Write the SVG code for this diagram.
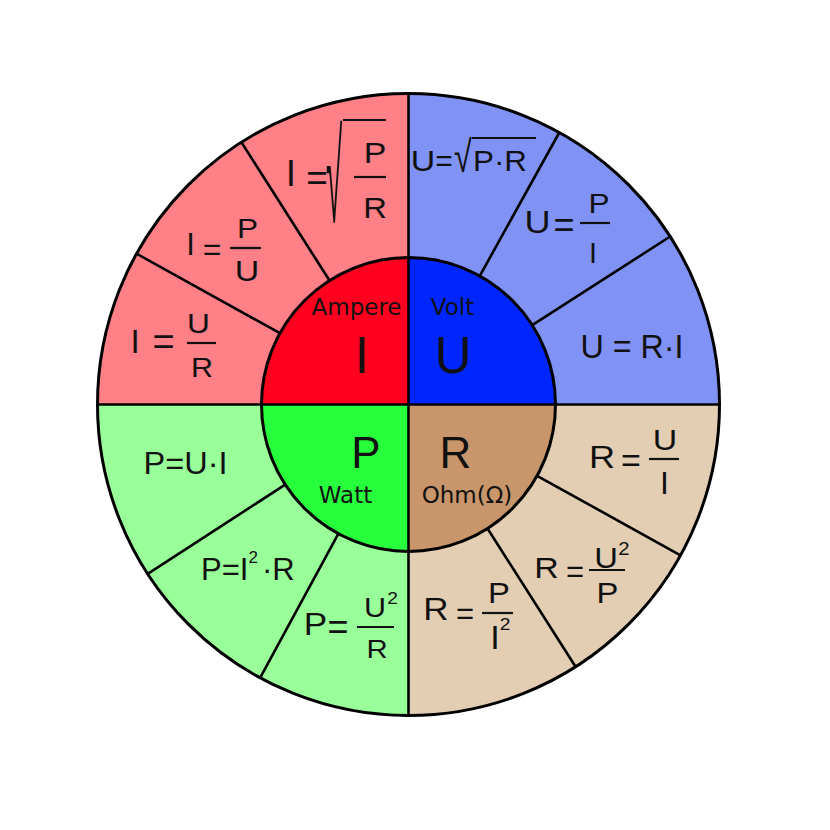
<svg xmlns="http://www.w3.org/2000/svg" width="830" height="830" viewBox="0 0 830 830">
<style>
.f{font-family:"Liberation Sans",Arial,sans-serif;fill:#111}
.m{text-anchor:middle}
.w{transform-box:fill-box;transform-origin:center;transform:scaleX(1.13)}
.lbl{font-family:"DejaVu Sans",sans-serif;fill:#111;text-anchor:middle;font-size:23px}
.big{font-family:"Liberation Sans",Arial,sans-serif;fill:#111;text-anchor:middle}
.bar{stroke:#111;stroke-width:2.2}
.div{stroke:#000;stroke-width:2.6;fill:none}
.ring{stroke:#000;stroke-width:3;fill:none}
</style>
<rect width="830" height="830" fill="#fff"/>
<g id="outer-sectors">
<path d="M408.5 404.5 L97.5 404.5 A311 311 0 0 1 408.5 93.5 Z" fill="#ff8087"/>
<path d="M408.5 404.5 L408.5 93.5 A311 311 0 0 1 719.5 404.5 Z" fill="#8093f5"/>
<path d="M408.5 404.5 L719.5 404.5 A311 311 0 0 1 408.5 715.5 Z" fill="#e3ceb4"/>
<path d="M408.5 404.5 L408.5 715.5 A311 311 0 0 1 97.5 404.5 Z" fill="#99ff99"/>
</g>
<g id="node-I">
<path d="M408.5 404.5 L261.5 404.5 A147 147 0 0 1 408.5 257.5 Z" fill="#ff001e"/>
<text class="lbl" x="356.5" y="315">Ampere</text>
<text class="big" x="362" y="373" font-size="51">I</text>
</g>
<g id="node-U">
<path d="M408.5 404.5 L408.5 257.5 A147 147 0 0 1 555.5 404.5 Z" fill="#0026ff"/>
<text class="lbl" x="452.5" y="315">Volt</text>
<text class="big" x="453" y="373" font-size="51">U</text>
</g>
<g id="node-R">
<path d="M408.5 404.5 L555.5 404.5 A147 147 0 0 1 408.5 551.5 Z" fill="#c8966a"/>
<text class="big" x="455.5" y="468" font-size="44">R</text>
<text class="lbl" x="467" y="503" font-size="24">Ohm(Ω)</text>
</g>
<g id="node-P">
<path d="M408.5 404.5 L408.5 551.5 A147 147 0 0 1 261.5 404.5 Z" fill="#28ff3c"/>
<text class="big" x="366" y="468" font-size="44">P</text>
<text class="lbl" x="345.5" y="503">Watt</text>
</g>
<g id="connectors">
<circle class="ring" cx="408.5" cy="404.5" r="311"/>
<circle class="ring" cx="408.5" cy="404.5" r="147"/>
<line class="div" x1="408.5" y1="93.5" x2="408.5" y2="715.5" stroke-width="3"/>
<line class="div" x1="97.5" y1="404.5" x2="719.5" y2="404.5" stroke-width="3"/>
<line class="div" x1="329.5" y1="280.5" x2="241.4" y2="142.2"/>
<line class="div" x1="279.9" y1="333.2" x2="136.5" y2="253.7"/>
<line class="div" x1="479.8" y1="275.9" x2="559.3" y2="132.5"/>
<line class="div" x1="532.2" y1="325.1" x2="670.2" y2="236.5"/>
<line class="div" x1="285.2" y1="484.6" x2="147.7" y2="573.9"/>
<line class="div" x1="338.4" y1="533.7" x2="260.1" y2="677.8"/>
<line class="div" x1="487.5" y1="528.5" x2="575.6" y2="666.8"/>
<line class="div" x1="537.1" y1="475.8" x2="680.5" y2="555.3"/>
</g>
<g id="f-I-sqrt">
<text class="f m" x="291" y="186" font-size="37">I</text>
<text class="f m" x="317" y="190" font-size="37">=</text>
<text class="f" transform="translate(326 222) scale(0.8 3.45)" font-size="37">√</text>
<line class="bar" x1="343" y1="120" x2="386" y2="120"/>
<text class="f m w" x="375" y="163" font-size="30">P</text>
<line class="bar" x1="354" y1="177" x2="386" y2="177"/>
<text class="f m w" x="375" y="218" font-size="29">R</text>
</g>
<g id="f-U-sqrt">
<text class="f m w" x="423" y="171" font-size="30">U</text>
<text class="f m" x="444" y="171" font-size="30">=</text>
<text class="f" transform="translate(454 172) scale(0.95 1.3)" font-size="34">√</text>
<line class="bar" x1="472" y1="138" x2="536" y2="138"/>
<text class="f" x="473" y="171" font-size="30" textLength="54" lengthAdjust="spacingAndGlyphs">P·R</text>
</g>
<g id="f-I-PU">
<text class="f m" x="190.5" y="255" font-size="31">I</text>
<text class="f m" x="212" y="259.5" font-size="32">=</text>
<text class="f m w" x="247.5" y="238" font-size="28">P</text>
<line class="bar" x1="230" y1="248" x2="261" y2="248"/>
<text class="f m w" x="247" y="281.5" font-size="30">U</text>
</g>
<g id="f-I-UR">
<text class="f m" x="135" y="353" font-size="33">I</text>
<text class="f m" x="163.5" y="355" font-size="38">=</text>
<text class="f m w" x="198.5" y="333" font-size="28">U</text>
<line class="bar" x1="187" y1="343" x2="216" y2="343"/>
<text class="f m w" x="202" y="377" font-size="27">R</text>
</g>
<g id="f-U-PI">
<text class="f m w" x="537.5" y="233" font-size="32">U</text>
<text class="f m" x="564" y="237" font-size="36">=</text>
<text class="f m w" x="599" y="213" font-size="28">P</text>
<line class="bar" x1="580" y1="223" x2="610" y2="223"/>
<text class="f m" x="593" y="263" font-size="29">I</text>
</g>
<g id="f-U-RI">
<text class="f" x="580.5" y="358" font-size="34" textLength="103" lengthAdjust="spacingAndGlyphs">U = R·I</text>
</g>
<g id="f-P-UI">
<text class="f" x="143.6" y="474" font-size="31" textLength="84" lengthAdjust="spacingAndGlyphs">P=U·I</text>
</g>
<g id="f-P-I2R">
<text class="f" x="201" y="580" font-size="31">P=I<tspan dy="-17" font-size="17">2</tspan><tspan dy="17" dx="4">·R</tspan></text>
</g>
<g id="f-P-U2R">
<text class="f m w" x="315.5" y="635" font-size="31">P</text>
<text class="f m" x="338" y="639" font-size="36">=</text>
<text class="f m w" x="375" y="617" font-size="27">U</text>
<text class="f m w" x="392.5" y="604" font-size="17">2</text>
<line class="bar" x1="357" y1="627" x2="394" y2="627"/>
<text class="f m w" x="377" y="658" font-size="26">R</text>
</g>
<g id="f-R-UI">
<text class="f m w" x="602" y="468" font-size="32">R</text>
<text class="f m" x="631" y="472" font-size="34">=</text>
<text class="f m w" x="665" y="450" font-size="30">U</text>
<line class="bar" x1="649" y1="459" x2="679" y2="459"/>
<text class="f m" x="664.5" y="494" font-size="32">I</text>
</g>
<g id="f-R-U2P">
<text class="f m w" x="546.5" y="578" font-size="30">R</text>
<text class="f m" x="575" y="582" font-size="31">=</text>
<text class="f m w" x="606" y="568" font-size="29">U</text>
<text class="f m w" x="624" y="555" font-size="18">2</text>
<line class="bar" x1="589" y1="570" x2="625" y2="570"/>
<text class="f m w" x="607.5" y="603" font-size="29">P</text>
</g>
<g id="f-R-PI2">
<text class="f m w" x="436" y="620" font-size="31">R</text>
<text class="f m" x="465" y="624" font-size="31">=</text>
<text class="f m w" x="499" y="603" font-size="29">P</text>
<line class="bar" x1="482" y1="613" x2="513" y2="613"/>
<text class="f m" x="495" y="649" font-size="34">I</text>
<text class="f m w" x="505" y="630" font-size="17">2</text>
</g>
</svg>
